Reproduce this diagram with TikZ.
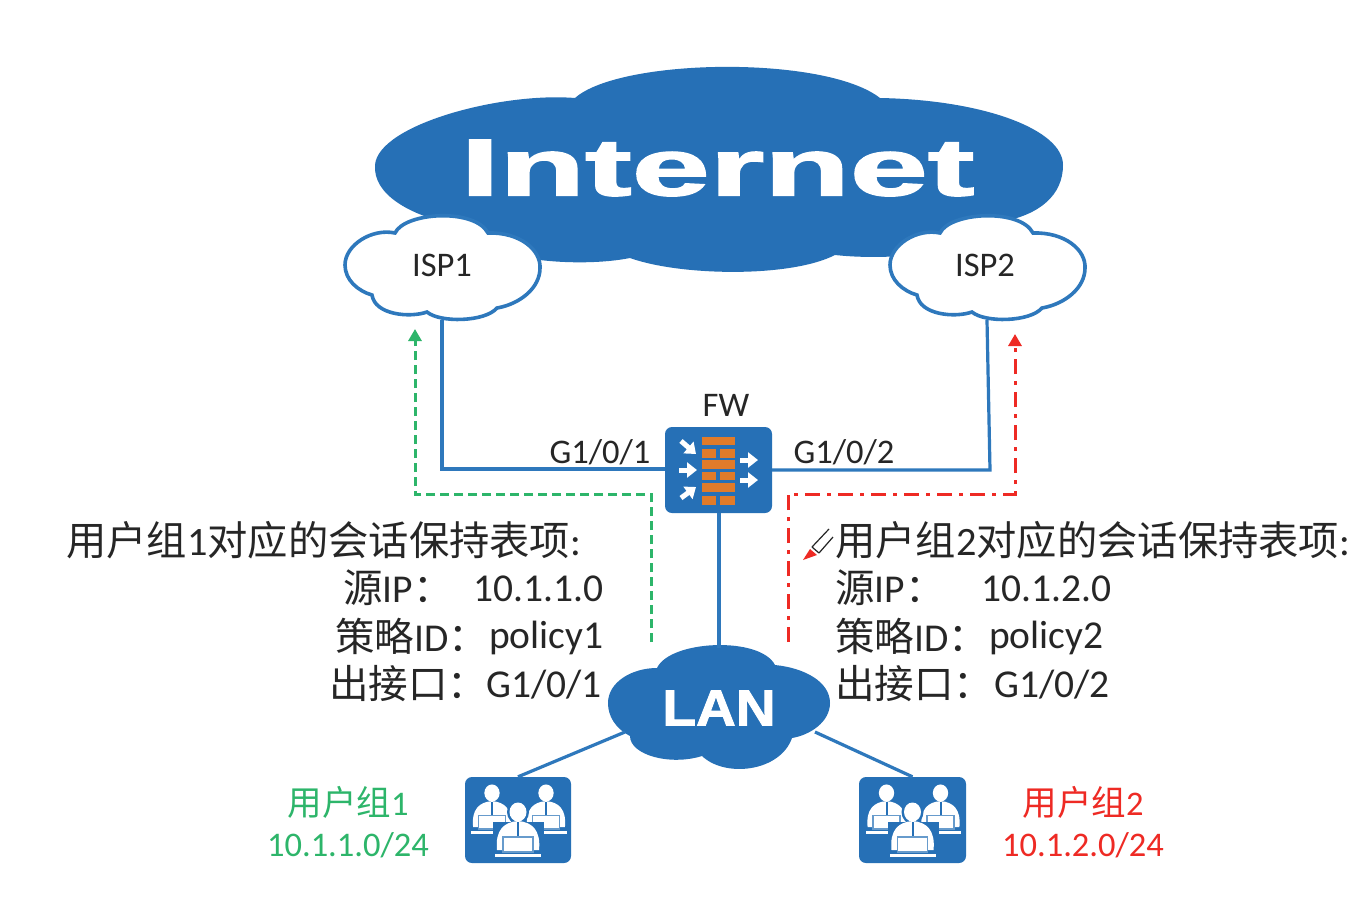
\documentclass[tikz,border=0pt]{standalone}
\usepackage{fontspec}
\usepackage{graphicx}
\usetikzlibrary{arrows.meta,calc}
\setmainfont{Carlito}
\newfontfamily\cjk{Noto Sans CJK SC}
\newfontfamily\heavy{Liberation Sans}[BoldFont={Liberation Sans Bold},BoldFeatures={FakeBold=1.6}]
\definecolor{cloudblue}{HTML}{2670B6}
\definecolor{linkblue}{HTML}{2E78BC}
\definecolor{brick}{HTML}{E07B2A}
\definecolor{grn}{HTML}{2DB56A}
\definecolor{rd}{HTML}{EE2A24}
\definecolor{ink}{HTML}{262626}
\newcommand{\ispshape}{(345,265) .. controls (345,245) and (372,228) .. (395,233)
 .. controls (405,212) and (475,208) .. (488,233)
 .. controls (520,232) and (541,250) .. (540,268)
 .. controls (540,288) and (520,304) .. (497,308)
 .. controls (485,322) and (440,323) .. (427,312)
 .. controls (410,318) and (375,315) .. (372,295)
 .. controls (358,291) and (345,280) .. (345,265) -- cycle}
\newcommand{\brickrow}[3]{\fill[brick] (#1,#3) rectangle (#2,#3+8.5);}
\newcommand{\whitearrow}[2]{\draw[white,line width=5pt,-{Triangle[length=10pt,width=15pt]}] #1 -- #2;}
\tikzset{
 wire/.style={draw=linkblue,line width=3.2pt},
 pathg/.style={draw=grn,line width=3pt,dash pattern=on 9pt off 5pt,-{Triangle[length=12pt,width=13pt]}},
 pathr/.style={draw=rd,line width=3pt,dash pattern=on 15pt off 7pt on 4pt off 7pt,-{Triangle[length=12pt,width=13pt]}},
 lab/.style={inner sep=0pt,font=\fontsize{39.5}{40}\selectfont,text=ink},
 headlab/.style={inner sep=0pt,font=\fontsize{40.3}{41}\selectfont,text=ink},
 port/.style={inner sep=0pt,font=\fontsize{34.5}{35}\selectfont,text=ink},
 isplab/.style={inner sep=0pt,font=\fontsize{34.5}{35}\selectfont,text=ink},
 ugreen/.style={inner sep=0pt,font=\fontsize{34.5}{35}\selectfont,text=grn},
 ured/.style={inner sep=0pt,font=\fontsize{34.5}{35}\selectfont,text=rd},
 devbox/.style={fill=cloudblue,rounded corners=7pt,inner sep=0pt},
 person/.pic={
  \fill[white] (-21,38) .. controls (-23,18) and (-14,10) .. (0,9) .. controls (14,10) and (23,18) .. (21,38) -- cycle;
  \fill[white] (0,0) ellipse (8.5 and 9.5);
  \draw[cloudblue,line width=2pt] (0,10) -- (0,24);
  \draw[cloudblue!70,line width=1.1pt,fill=white] (-15,25) rectangle (15,40);
  \fill[white] (-23,42) rectangle (23,45);
 },
}
\begin{document}
\begin{tikzpicture}[x=1pt,y=-1pt]
\useasboundingbox (0,0) rectangle (1366,900);
\fill[white] (0,0) rectangle (1366,900);

% Internet cloud
\fill[cloudblue] (375,165) .. controls (378,125) and (500,92) .. (575,98)
 .. controls (620,58) and (825,55) .. (880,98)
 .. controls (985,100) and (1063,130) .. (1063,165)
 .. controls (1063,195) and (1040,215) .. (1000,222)
 .. controls (990,250) and (900,262) .. (835,255)
 .. controls (790,278) and (680,276) .. (630,258)
 .. controls (580,268) and (480,262) .. (455,225)
 .. controls (410,215) and (373,195) .. (375,165) -- cycle;
\node[inner sep=0pt,text=white,font=\heavy\bfseries\fontsize{81}{81}\selectfont] (internet) at (717.5,168) {\scalebox{1.73}[1]{Internet}};

% ISP clouds
\draw[fill=white,draw=linkblue,line width=3.6pt] \ispshape;
\begin{scope}[xshift=545pt]
\draw[fill=white,draw=linkblue,line width=3.6pt] \ispshape;
\end{scope}
\node[isplab] (isp1) at (442,265) {ISP1};
\node[isplab] (isp2) at (985,265) {ISP2};
\coordinate (isp1b) at (442,320);
\coordinate (isp2b) at (987,320);

% Firewall
\node[devbox,minimum width=107pt,minimum height=86pt] (fw) at (718.5,470) {};
\node[port] (fwlab) at (726,405) {FW};
\brickrow{702}{735}{436.5}
\brickrow{702}{716}{449}\brickrow{720}{735}{449}
\brickrow{702}{735}{460}
\brickrow{702}{716}{471.5}\brickrow{720}{735}{471.5}
\brickrow{702}{735}{483}
\brickrow{702}{716}{496}\brickrow{720}{735}{496}
\whitearrow{(681,441)}{(696,454)}
\whitearrow{(679,470)}{(697,470)}
\whitearrow{(681,498)}{(696,487)}
\whitearrow{(740,460)}{(758,460)}
\whitearrow{(740,480)}{(758,480)}

% LAN cloud
\fill[cloudblue] (608,703) .. controls (608,682) and (632,668) .. (657,668)
 .. controls (670,640) and (760,636) .. (775,665)
 .. controls (805,668) and (830,682) .. (830,703)
 .. controls (830,722) and (810,735) .. (792,738)
 .. controls (780,772) and (725,778) .. (702,756)
 .. controls (670,766) and (630,755) .. (630,736)
 .. controls (615,728) and (608,716) .. (608,703) -- cycle;
\node[inner sep=0pt,text=white,font=\heavy\bfseries\fontsize{51}{51}\selectfont] (lan) at (719,708) {\scalebox{1.08}[1]{LAN}};
\coordinate (lant) at (719,648);
\coordinate (lanl) at (625,732);
\coordinate (lanr) at (815,732);

% User groups
\node[devbox,minimum width=106pt,minimum height=86pt] (ug1) at (518,820) {};
\node[devbox,minimum width=107pt,minimum height=86pt] (ug2) at (912.5,820) {};
\foreach \dx in {0,394.5}{
 \begin{scope}[xshift=\dx pt]
 \pic[scale=.9] at (492,793) {person};
 \pic[scale=.9] at (546,793) {person};
 \fill[cloudblue] (493,822) rectangle (544,856);
 \fill[cloudblue] (518,812) ellipse (11 and 12);
 \pic at (518,812) {person};
 \end{scope}
}

% Wires
\draw[wire] (isp1b) |- (fw.west |- 0,469);
\coordinate (corner2) at (990,470);
\draw[wire] (isp2b) -- (corner2) -- (fw.east |- corner2);
\draw[wire] (fw.south -| lant) -- (lant);
\draw[wire] (lanl) -- (ug1.north);
\draw[wire] (lanr) -- (ug2.north);

% Policy paths
\coordinate (gs) at (651,642);
\coordinate (gc) at (651,494);
\coordinate (gm) at (415,494);
\coordinate (ge) at (415,329);
\draw[pathg] (gs) -- (gc) -- (gm) -- (ge);
\coordinate (rs) at (788,642);
\coordinate (rc) at (788,494);
\coordinate (rm) at (1015,494);
\coordinate (re) at (1015,334);
\draw[pathr] (rs) -- (rc) -- (rm) -- (re);

% Port labels
\node[port] (g1) at (600,452) {G1/0/1};
\node[port] (g2) at (844,452) {G1/0/2};

% Left table
\node[headlab,anchor=west] (t1) at (66,540) {{\cjk 用户组}1{\cjk 对应的会话保持表项}:};
\node[lab,anchor=west] (t1a) at (343,588) {{\cjk 源}IP{\cjk ：}};
\node[lab,anchor=west] (t1av) at (473,589) {10.1.1.0};
\node[lab,anchor=west] (t1b) at (335,636) {{\cjk 策略}ID{\cjk ：}};
\node[lab,anchor=west] (t1bv) at (489,638) {policy1};
\node[lab,anchor=west] (t1c) at (329,684) {{\cjk 出接口：}};
\node[lab,anchor=west] (t1cv) at (486,685) {G1/0/1};

% Right table
\node[headlab,anchor=west] (t2) at (835,540) {{\cjk 用户组}2{\cjk 对应的会话保持表项}:};
\node[lab,anchor=west] (t2a) at (835,588) {{\cjk 源}IP{\cjk ：}};
\node[lab,anchor=west] (t2av) at (981,589) {10.1.2.0};
\node[lab,anchor=west] (t2b) at (835,636) {{\cjk 策略}ID{\cjk ：}};
\node[lab,anchor=west] (t2bv) at (989,638) {policy2};
\node[lab,anchor=west] (t2c) at (835,684) {{\cjk 出接口：}};
\node[lab,anchor=west] (t2cv) at (994,685) {G1/0/2};

% Group labels
\node[ugreen] (u1) at (348,802) {{\cjk 用户组}1};
\node[ugreen] (u1n) at (348,845) {10.1.1.0/24};
\node[ured] (u2) at (1083,802) {{\cjk 用户组}2};
\node[ured] (u2n) at (1083,845) {10.1.2.0/24};

% Pencil mark
\fill[rd] (803,560) -- (810,549) -- (817,555) -- cycle;
\draw[ink,line width=1.2pt] (812,547) -- (829,529);
\draw[ink,line width=1.2pt] (819,553) -- (833,537);
\draw[ink,line width=1.2pt] (812,547) -- (819,553);
\end{tikzpicture}
\end{document}
